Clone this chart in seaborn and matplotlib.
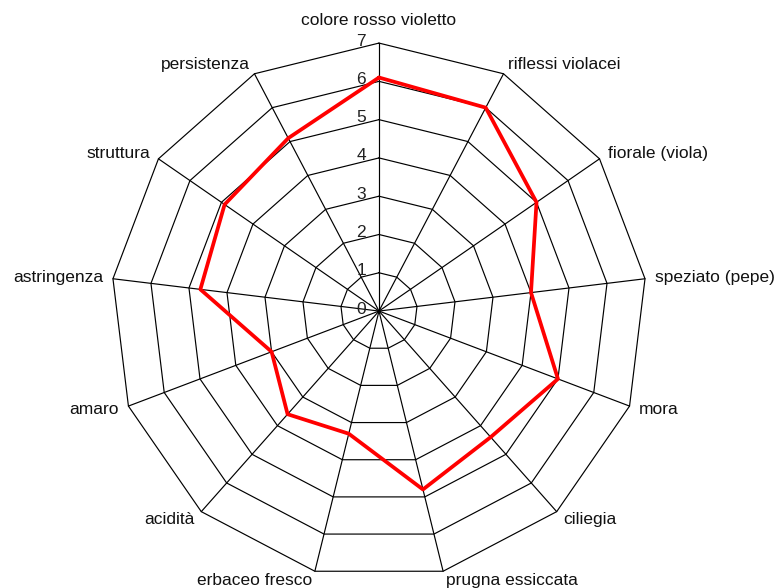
import numpy as np
import pandas as pd
import matplotlib
matplotlib.use('Agg')
import matplotlib.pyplot as plt
import seaborn as sns

# dati (senso orario dall'alto)
categories = ['colore rosso violetto', 'riflessi violacei', 'fiorale (viola)',
              'speziato (pepe)', 'mora', 'ciliegia', 'prugna essiccata',
              'erbaceo fresco', 'acidità', 'amaro', 'astringenza',
              'struttura', 'persistenza']
values = [6.1, 6.0, 5.0, 4.0, 5.0, 4.4, 4.8, 3.3, 3.6, 3.0, 4.7, 4.9, 5.1]
rings = [1, 2, 3, 4, 5, 6, 7]
tick_labels = ['0', '1', '2', '3', '4', '5', '6', '7']

sns.set_style('white')
plt.rcParams['font.family'] = ['Liberation Sans', 'DejaVu Sans']

n = len(categories)
angles = np.linspace(0, 2 * np.pi, n, endpoint=False)
closed = np.append(angles, angles[0] + 2 * np.pi)

fig = plt.figure(figsize=(7.79, 5.88), dpi=100)
ax = fig.add_axes([0.1425, 0.015, 0.688, 0.912], projection='polar')
ax.set_theta_zero_location('N')
ax.set_theta_direction(-1)
ax.set_ylim(0, 7)
ax.grid(False)
ax.spines['polar'].set_visible(False)
ax.set_xticks([])
ax.set_yticks([])
ax.patch.set_alpha(0)

# anelli poligonali e raggi
for r in rings:
    ax.plot(closed, [r] * len(closed), color='black', lw=0.85, clip_on=False)
for a in angles:
    ax.plot([a, a], [0, 7], color='black', lw=0.85, clip_on=False)

# serie
df = pd.DataFrame({'theta': closed, 'valore': values + [values[0]]})
sns.lineplot(data=df, x='theta', y='valore', sort=False, color='red',
             lw=2.7, ax=ax, clip_on=False)
ax.set_xlabel('')
ax.set_ylabel('')

# etichette delle categorie
for i, (a, lab) in enumerate(zip(angles, categories)):
    s, c = np.sin(a), np.cos(a)
    dist = 23 if i == 0 else 10
    if abs(s) < 0.05:
        ha = 'center'
    elif s > 0:
        ha = 'left'
    else:
        ha = 'right'
    ax.annotate(lab, xy=(a, 7), xytext=(dist * s, dist * c),
                textcoords='offset pixels', ha=ha, va='center',
                fontsize=12.5, color='#111111', annotation_clip=False)

# valori della scala lungo l'asse verticale
for k, t in enumerate(tick_labels):
    ax.annotate(t, xy=(0, k), xytext=(-13, 2), textcoords='offset pixels',
                ha='right', va='center', fontsize=12.5, color='#222222',
                annotation_clip=False)

fig.savefig('out.png', dpi=100)
